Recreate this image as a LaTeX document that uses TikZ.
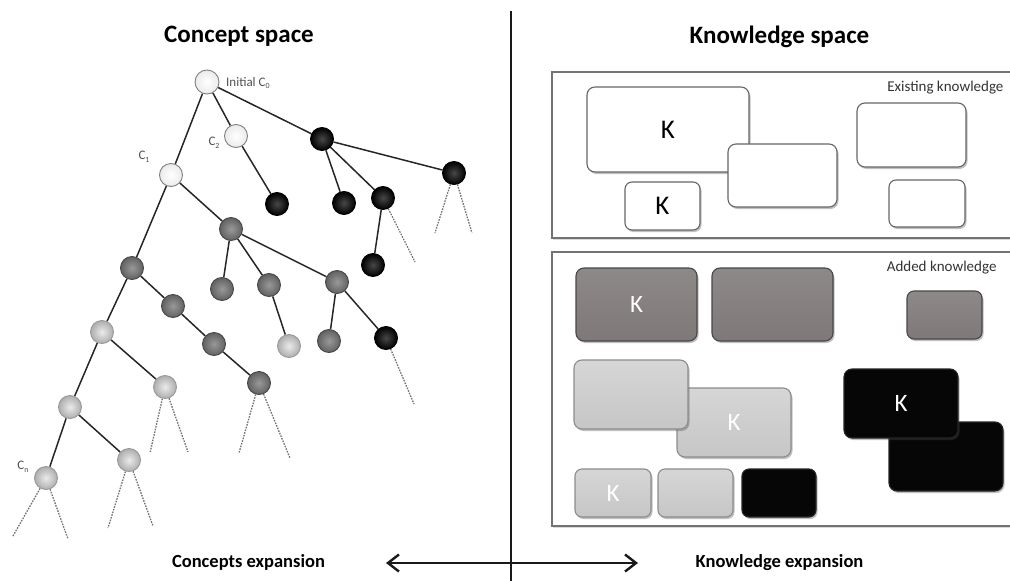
\documentclass[tikz,border=0pt]{standalone}
\usepackage{fontspec}
\setmainfont{Carlito}
\usetikzlibrary{arrows.meta,shadows,backgrounds}

\definecolor{kdark}{HTML}{7E7878}
\definecolor{kdarktop}{HTML}{8E8989}
\definecolor{klight}{HTML}{C6C6C6}
\definecolor{klighttop}{HTML}{D6D6D6}
\definecolor{kblack}{HTML}{060606}
\definecolor{labelgray}{HTML}{505050}

\newcommand\lowidx[1]{\raisebox{-0.4ex}{\fontsize{8}{9}\selectfont #1}}

\begin{document}
\begin{tikzpicture}[x=1pt,y=-1pt,
  title/.style={font=\fontsize{25}{28}\selectfont\bfseries, anchor=base},
  caption/.style={font=\fontsize{18.5}{21}\selectfont\bfseries, anchor=base},
  small/.style={font=\fontsize{15}{17}\selectfont, text=black!80},
  clabel/.style={font=\fontsize{13}{15}\selectfont, text=labelgray, inner sep=0pt},
  edge/.style={line width=1.5pt, draw=black!85},
  leaf/.style={line width=1.3pt, draw=black!55, dash pattern=on 1.6pt off 1.2pt},
  concept/.style={circle, inner sep=0pt, minimum size=23pt, line width=0.9pt},
  cwhite/.style={concept, draw=black!50, inner color=white, outer color=black!8},
  clight/.style={concept, draw=black!40, inner color=black!8, outer color=black!32},
  cgray/.style={concept, draw=black!72, inner color=black!40, outer color=black!62},
  cblack/.style={concept, draw=black, inner color=black!72, outer color=black},
  frame/.style={fill=white, draw=black!55, line width=1.5pt,
    drop shadow={shadow xshift=1pt, shadow yshift=-1.5pt, opacity=0.3}},
  kbox/.style={rounded corners=8pt, inner sep=0pt, line width=1.1pt,
    drop shadow={shadow xshift=1.5pt, shadow yshift=-2pt, opacity=0.35, fill=black!70}},
  kwhite/.style={kbox, fill=white, draw=black!60, font=\fontsize{27}{30}\selectfont},
  kdarkbox/.style={kbox, top color=kdarktop, bottom color=kdark, draw=black!72,
    text=white, font=\fontsize{25}{28}\selectfont},
  klightbox/.style={kbox, top color=klighttop, bottom color=klight, draw=black!45,
    text=white, font=\fontsize{25}{28}\selectfont},
  kblackbox/.style={kbox, fill=kblack, draw=black!85,
    text=white, font=\fontsize{25}{28}\selectfont},
  ksize/.style n args={2}{minimum width=#1pt, minimum height=#2pt},
]
\useasboundingbox (0,0) rectangle (1010,581);

% ---------- headings and divider ----------
\node[title] (tconcept) at (239,42) {Concept space};
\node[title] (tknow) at (779.5,43) {Knowledge space};

\coordinate (vtop) at (511,11);
\coordinate (vbot) at (511,590);
\draw[line width=2.4pt, black!90] (vtop) -- (vbot);

\coordinate (arrL) at (386,563);
\coordinate (arrR) at (638,563);
\draw[line width=2.4pt, black!90,
  {Straight Barb[length=11pt,width=17pt]}-{Straight Barb[length=11pt,width=17pt]}]
  (arrL) -- (arrR);

\node[caption] (cexp) at (248.5,567) {Concepts expansion};
\node[caption] (kexp) at (779.5,567) {Knowledge expansion};

% ---------- concept tree ----------
\node[cwhite, minimum size=24pt] (c0) at (207,82) {};
\node[cwhite] (c2) at (236,136) {};
\node[cwhite] (c1) at (171,175) {};
\node[cblack] (b1) at (322,139) {};
\node[cblack] (b2) at (454,173) {};
\node[cblack] (b3) at (277,204) {};
\node[cblack] (b4) at (344,203) {};
\node[cblack] (b5) at (383,198) {};
\node[cblack] (b6) at (373,265) {};
\node[cgray] (g1) at (231,229) {};
\node[cgray] (g2) at (222,289) {};
\node[cgray] (g3) at (269,285) {};
\node[cgray] (g4) at (337,282) {};
\node[clight] (l1) at (289,346) {};
\node[cgray] (g5) at (329,341) {};
\node[cblack] (b7) at (386,338) {};
\node[cgray] (h1) at (132,268) {};
\node[cgray] (h2) at (173,306) {};
\node[cgray] (h3) at (214,344) {};
\node[cgray] (h4) at (259,383) {};
\node[clight] (l2) at (102,332) {};
\node[clight] (l3) at (165,387) {};
\node[clight] (l4) at (70,407) {};
\node[clight] (l5) at (129,460) {};
\node[clight] (cn) at (46,478) {};

\node[clabel, anchor=west] (lc0) at (226,83) {Initial C\lowidx{0}};
\node[clabel] (lc2) at (214,143) {C\lowidx{2}};
\node[clabel] (lc1) at (144,157) {C\lowidx{1}};
\node[clabel] (lcn) at (23,467) {C\lowidx{n}};

% open ends of the tree
\coordinate (d1) at (415,262);
\coordinate (d2a) at (435,233);
\coordinate (d2b) at (472,233);
\coordinate (d3) at (414,404);
\coordinate (d4a) at (239,453);
\coordinate (d4b) at (290,458);
\coordinate (d5a) at (150,453);
\coordinate (d5b) at (188,452);
\coordinate (d6a) at (108,528);
\coordinate (d6b) at (153,526);
\coordinate (d7a) at (13,536);
\coordinate (d7b) at (68,539);

\begin{scope}[on background layer]
  \draw[edge] (c0) -- (c1);
  \draw[edge] (c0) -- (c2);
  \draw[edge] (c0) -- (b1);
  \draw[edge] (b1) -- (b2);
  \draw[edge] (c2) -- (b3);
  \draw[edge] (b1) -- (b4);
  \draw[edge] (b1) -- (b5);
  \draw[edge] (b5) -- (b6);
  \draw[edge] (c1) -- (g1);
  \draw[edge] (c1) -- (h1);
  \draw[edge] (g1) -- (g2);
  \draw[edge] (g1) -- (g3);
  \draw[edge] (g1) -- (g4);
  \draw[edge] (g3) -- (l1);
  \draw[edge] (g4) -- (g5);
  \draw[edge] (g4) -- (b7);
  \draw[edge] (h1) -- (h2);
  \draw[edge] (h2) -- (h3);
  \draw[edge] (h3) -- (h4);
  \draw[edge] (h1) -- (l2);
  \draw[edge] (l2) -- (l3);
  \draw[edge] (l2) -- (l4);
  \draw[edge] (l4) -- (l5);
  \draw[edge] (l4) -- (cn);
  \draw[leaf] (b5) -- (d1);
  \draw[leaf] (b2) -- (d2a);
  \draw[leaf] (b2) -- (d2b);
  \draw[leaf] (b7) -- (d3);
  \draw[leaf] (h4) -- (d4a);
  \draw[leaf] (h4) -- (d4b);
  \draw[leaf] (l3) -- (d5a);
  \draw[leaf] (l3) -- (d5b);
  \draw[leaf] (l5) -- (d6a);
  \draw[leaf] (l5) -- (d6b);
  \draw[leaf] (cn) -- (d7a);
  \draw[leaf] (cn) -- (d7b);
\end{scope}

% ---------- knowledge space ----------
\begin{scope}
  \clip (0,0) rectangle (1010,581);
  \path[frame] (552,72) rectangle (1030,238);
  \path[frame] (552,252) rectangle (1030,526);
\end{scope}
\node[small, anchor=base east] (exist) at (1007,91) {Existing knowledge};
\node[small, anchor=base east] (added) at (1000,271) {Added knowledge};

% existing knowledge
\node[kwhite, ksize={162}{85}] (e1) at (668,129.5) {K};
\node[kwhite, ksize={75}{48}, rounded corners=7pt] (e2) at (662.5,206) {K};
\node[kwhite, ksize={109}{63}] (e3) at (782.5,175.5) {};
\node[kwhite, ksize={109}{64}] (e4) at (911.5,135) {};
\node[kwhite, ksize={76}{47}, rounded corners=7pt] (e5) at (927,203.5) {};

% added knowledge
\node[kdarkbox, ksize={121}{73}] (a1) at (636.5,304.5) {K};
\node[kdarkbox, ksize={121}{73}] (a2) at (772.5,304.5) {};
\node[kdarkbox, ksize={75}{48}, rounded corners=7pt] (a3) at (944.5,315) {};
\node[klightbox, ksize={114}{69}] (a5) at (734,422.5) {K};
\node[klightbox, ksize={114}{69}] (a4) at (631,394.5) {};
\node[kblackbox, ksize={114}{69}] (a7) at (946,456.5) {};
\node[kblackbox, ksize={114}{69}] (a6) at (901,403.5) {K};
\node[klightbox, ksize={76}{48}, rounded corners=7pt] (a8) at (613,493) {K};
\node[klightbox, ksize={75}{48}, rounded corners=7pt] (a9) at (695.5,493) {};
\node[kblackbox, ksize={74}{48}, rounded corners=7pt] (a10) at (779,493) {};
\end{tikzpicture}
\end{document}
